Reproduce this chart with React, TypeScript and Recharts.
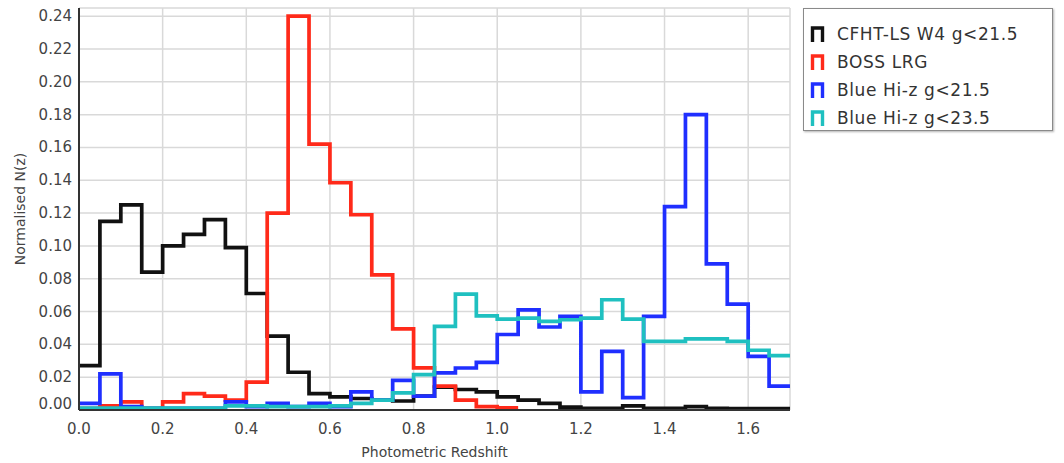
import React from 'react';
import { LineChart, Line, XAxis, YAxis, CartesianGrid } from 'recharts';

// left edges of the 0.05-wide redshift bins
const binStarts = [
  0, 0.05, 0.1, 0.15, 0.2, 0.25, 0.3, 0.35, 0.4, 0.45, 0.5, 0.55, 0.6, 0.65, 0.7, 0.75, 0.8,
  0.85, 0.9, 0.95, 1.0, 1.05, 1.1, 1.15, 1.2, 1.25, 1.3, 1.35, 1.4, 1.45, 1.5, 1.55, 1.6, 1.65,
];
const binEnd = 1.7;

const cfht = [
  0.027, 0.115, 0.125, 0.084, 0.1, 0.107, 0.116, 0.099, 0.071, 0.045, 0.023, 0.01, 0.008, 0.007,
  0.006, 0.0055, 0.0084, 0.014, 0.0125, 0.011, 0.008, 0.006, 0.004, 0.0017, 0.001, 0.001, 0.0025,
  0.001, 0.001, 0.002, 0.001, 0.0008, 0.0008, 0.0008,
];

// BOSS LRG stops at z = 1.05
const boss = [
  0.001, 0.0025, 0.005, 0.001, 0.005, 0.01, 0.0085, 0.006, 0.017, 0.12, 0.24, 0.162, 0.1385,
  0.119, 0.0824, 0.0494, 0.0257, 0.0145, 0.006, 0.002, 0.0013,
];

const blue215 = [
  0.004, 0.022, 0.002, 0.001, 0.001, 0.001, 0.001, 0.005, 0.002, 0.004, 0.002, 0.004, 0.002, 0.011,
  0.006, 0.018, 0.0084, 0.0226, 0.0256, 0.029, 0.046, 0.061, 0.0506, 0.057, 0.011, 0.0357, 0.0076,
  0.057, 0.124, 0.18, 0.089, 0.0645, 0.0327, 0.0145,
];

const blue235 = [
  0.0012, 0.0012, 0.0012, 0.0012, 0.0012, 0.0012, 0.0012, 0.0025, 0.0025, 0.002, 0.002, 0.002,
  0.0025, 0.004, 0.006, 0.0104, 0.0216, 0.051, 0.0706, 0.0574, 0.0554, 0.056, 0.054, 0.055, 0.056,
  0.0672, 0.0554, 0.0418, 0.0418, 0.0433, 0.0433, 0.0418, 0.0364, 0.0331,
];

const xTicks = [0, 0.2, 0.4, 0.6, 0.8, 1.0, 1.2, 1.4, 1.6];
const yTicks = [0, 0.02, 0.04, 0.06, 0.08, 0.1, 0.12, 0.14, 0.16, 0.18, 0.2, 0.22, 0.24];

const series = [
  { key: 'cfht', name: 'CFHT-LS W4 g<21.5', color: '#111111', values: cfht },
  { key: 'boss', name: 'BOSS LRG', color: '#ff2a1a', values: boss },
  { key: 'blue215', name: 'Blue Hi-z g<21.5', color: '#1f2fff', values: blue215 },
  { key: 'blue235', name: 'Blue Hi-z g<23.5', color: '#1fc0c0', values: blue235 },
];

// one row per bin edge; the last value is repeated at the closing edge so the step is drawn
const edges = [...binStarts, binEnd];
const data = edges.map((z, i) => {
  const row: Record<string, number | null> = { z };
  series.forEach((s) => {
    const n = s.values.length;
    row[s.key] = i < n ? s.values[i] : i === n ? s.values[n - 1] : null;
  });
  return row;
});

const FONT = '"DejaVu Sans", Verdana, sans-serif';

const YTick = (props: any) => {
  const { x, y, payload } = props;
  const shift = payload.value === 0 ? -6 : 0;
  return (
    <text x={x} y={y + shift} dy={5} textAnchor="end" fontSize={15} fill="#444" fontFamily={FONT}>
      {payload.value.toFixed(2)}
    </text>
  );
};

const XTick = (props: any) => {
  const { x, y, payload } = props;
  return (
    <text x={x} y={y} dy={24} textAnchor="middle" fontSize={15} fill="#444" fontFamily={FONT}>
      {payload.value.toFixed(1)}
    </text>
  );
};

function LegendBox() {
  return (
    <div
      style={{
        position: 'absolute',
        left: 803,
        top: 8,
        width: 250,
        height: 123,
        border: '1px solid #8a8a8a',
        boxShadow: '1px 1px 2px rgba(0,0,0,0.3)',
        background: '#fff',
        paddingTop: 11,
        boxSizing: 'border-box',
        fontFamily: FONT,
      }}
    >
      {series.map((s) => (
        <div key={s.key} style={{ height: 28, display: 'flex', alignItems: 'center' }}>
          <svg width={16} height={16} style={{ marginLeft: 6 }}>
            <path d="M2.5 16 V2 H12.5 V16" stroke={s.color} strokeWidth={3.4} fill="none" />
          </svg>
          <span style={{ marginLeft: 11, fontSize: 17, letterSpacing: 0.6, color: '#333' }}>{s.name}</span>
        </div>
      ))}
    </div>
  );
}

export default function App() {
  return (
    <div style={{ position: 'absolute', left: 0, top: 0, width: 1064, height: 463, background: '#fff' }}>
      <LineChart width={1064} height={463} data={data} margin={{ top: 8, right: 274, bottom: 0, left: 0 }}>
        <CartesianGrid stroke="#d9d9d9" strokeWidth={1.5} />
        <XAxis
          dataKey="z"
          type="number"
          domain={[0, 1.7]}
          ticks={xTicks}
          height={53}
          tick={<XTick />}
          tickSize={0}
          tickMargin={0}
          axisLine={{ stroke: '#333', strokeWidth: 2 }}
          label={{ value: 'Photometric Redshift', position: 'insideBottom', offset: 6, fontSize: 14, fill: '#444', fontFamily: FONT }}
        />
        <XAxis
          xAxisId="top"
          orientation="top"
          dataKey="z"
          type="number"
          domain={[0, 1.7]}
          ticks={xTicks}
          height={0}
          mirror
          tickSize={5}
          tickFormatter={() => ''}
          tickLine={{ stroke: '#555', strokeWidth: 1.5 }}
          axisLine={{ stroke: '#555', strokeWidth: 2 }}
        />
        <YAxis
          type="number"
          domain={[0, 0.245]}
          ticks={yTicks}
          width={79}
          tick={<YTick />}
          tickSize={0}
          tickMargin={7}
          axisLine={{ stroke: '#333', strokeWidth: 2 }}
          label={{ value: 'Normalised N(z)', angle: -90, position: 'insideLeft', offset: 20, fontSize: 14, fill: '#444', fontFamily: FONT, style: { textAnchor: 'middle' } }}
        />
        <YAxis
          yAxisId="right"
          orientation="right"
          type="number"
          domain={[0, 0.245]}
          ticks={yTicks}
          width={0}
          mirror
          tickSize={5}
          tickFormatter={() => ''}
          tickLine={{ stroke: '#555', strokeWidth: 1.5 }}
          axisLine={{ stroke: '#555', strokeWidth: 2 }}
        />
        {series.map((s) => (
          <Line
            key={s.key}
            dataKey={s.key}
            name={s.name}
            type="stepAfter"
            stroke={s.color}
            strokeWidth={3.7}
            dot={false}
            activeDot={false}
            connectNulls={false}
            isAnimationActive={false}
          />
        ))}
      </LineChart>
      <LegendBox />
    </div>
  );
}
